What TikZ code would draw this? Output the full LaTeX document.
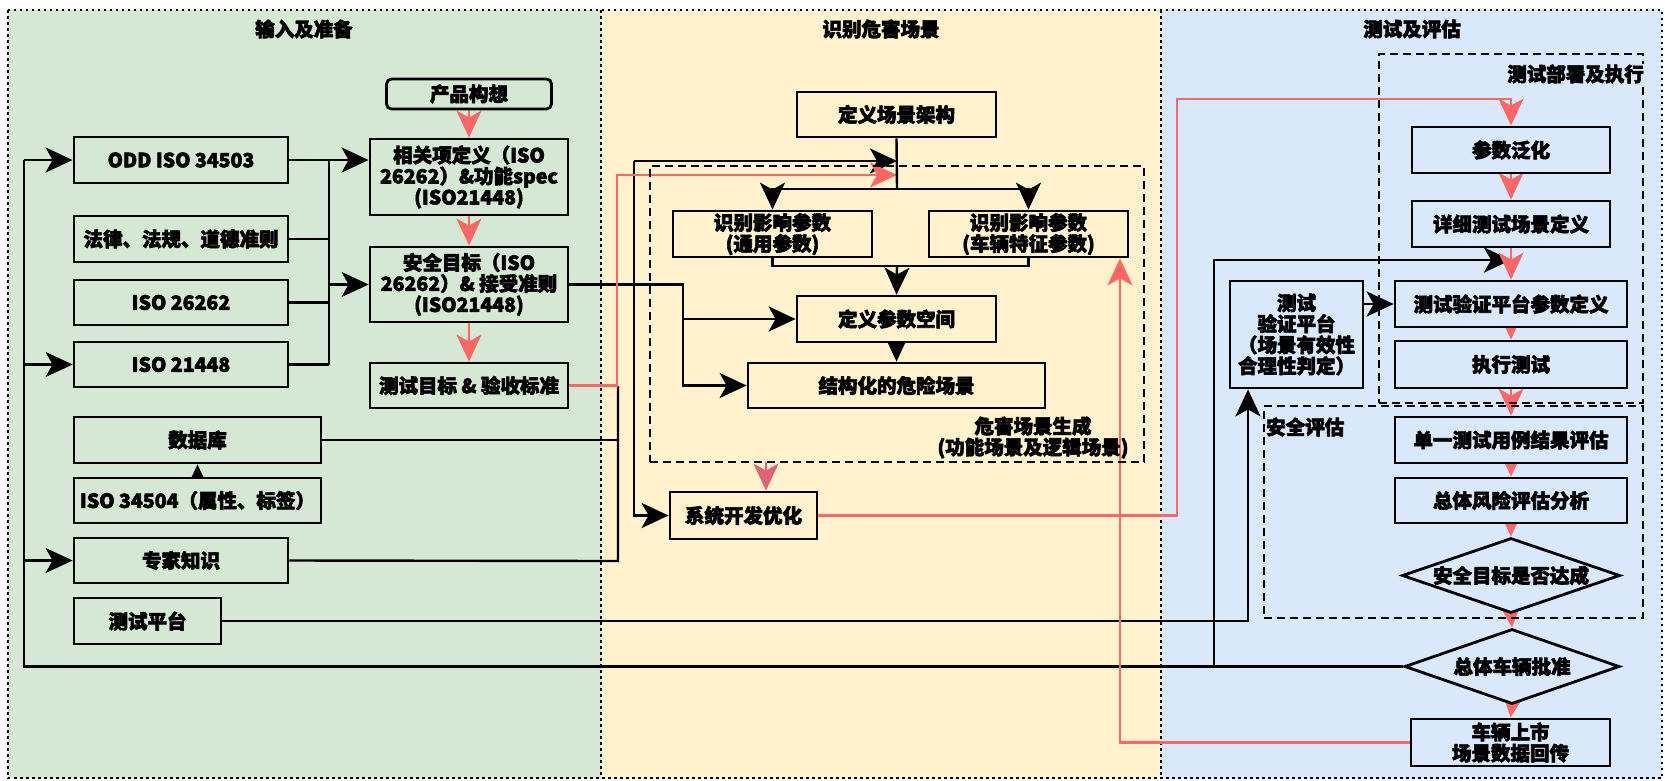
\documentclass[tikz,border=0pt]{standalone}
\usepackage{fontspec}
\setmainfont{Noto Sans CJK SC}
\usetikzlibrary{arrows.meta,shapes.geometric}
\definecolor{gbg}{HTML}{D5E8D4}
\definecolor{ybg}{HTML}{FFF2CC}
\definecolor{bbg}{HTML}{DAE8FC}
\definecolor{redc}{HTML}{FF6666}
\definecolor{redd}{HTML}{E06377}
\pgfdeclarelayer{bg}
\pgfdeclarelayer{edges}
\pgfsetlayers{bg,edges,main}
\begin{document}
\begin{tikzpicture}[x=1pt,y=-1pt,
  txt/.style={font=\bfseries\fontsize{19.5}{21}\selectfont\addfontfeatures{FakeBold=3}, align=center, inner sep=0pt},
  box/.style={txt, draw, line width=2.8pt},
  gbox/.style={box, fill=gbg},
  ybox/.style={box, fill=ybg},
  bbox/.style={box, fill=bbg},
  wh/.style 2 args={minimum width=#1pt, minimum height=#2pt},
  colborder/.style={draw, line width=2.5pt, dash pattern=on 2.5pt off 3.5pt},
  dbox/.style={draw, line width=2.5pt, dash pattern=on 8pt off 5pt},
  ln/.style={line width=2.4pt},
  arr/.style={ln, -{Stealth[length=27pt,width=25pt,inset=7pt]}},
  rarr/.style={arr, draw=redc},
  dia/.style={txt, draw, line width=2.8pt, diamond, aspect=2.9, fill=bbg}
]
\useasboundingbox (0,0) rectangle (1665,780);
% columns
\begin{pgfonlayer}{bg}
\path[fill=gbg] (8,10) rectangle (601,778);
\path[fill=ybg] (601,10) rectangle (1161,778);
\path[fill=bbg] (1161,10) rectangle (1662,778);
\draw[colborder] (8,10) rectangle (1662,778);
\draw[colborder] (601,10) -- (601,778);
\draw[colborder] (1161,10) -- (1161,778);
\end{pgfonlayer}
\node[txt] (t1) at (304,29) {输入及准备};
\node[txt] (t2) at (881,29) {识别危害场景};
\node[txt] (t3) at (1412,29) {测试及评估};

% dashed groups
\node[dbox, wh={494}{296}] (hz) at (897,314) {};
\node[txt, align=center] (hzlbl) at (1033,437.5) {危害场景生成\\(功能场景及逻辑场景)};
\node[dbox, wh={264}{349}] (deploy) at (1511,228.5) {};
\node[dbox, wh={379}{212}] (safety) at (1453.5,512) {};
\node[txt, fill=bbg, anchor=east, inner sep=1pt] (deplbl) at (1645,74) {测试部署及执行};
\node[txt, anchor=west] (saflbl) at (1266,427) {安全评估};

% column 1 nodes
\node[gbox, wh={165}{30}, rounded corners=5pt] (prod) at (469,94) {产品构想};
\node[gbox, wh={214}{46}] (odd) at (181,160) {ODD ISO 34503};
\node[gbox, wh={198}{76}] (rel) at (469,177) {相关项定义（ISO\\26262）\&功能spec\\(ISO21448)};
\node[gbox, wh={214}{46}] (law) at (181,239) {法律、法规、道德准则};
\node[gbox, wh={198}{75}] (sg) at (469,284.5) {安全目标（ISO\\26262）\& 接受准则\\(ISO21448)};
\node[gbox, wh={214}{45}] (iso26) at (181,302.5) {ISO 26262};
\node[gbox, wh={214}{45}] (iso21) at (181,364.5) {ISO 21448};
\node[gbox, wh={198}{45}] (tgt) at (469,385.5) {测试目标 \& 验收标准};
\node[gbox, wh={247}{46}] (db) at (197.5,440) {数据库};
\node[gbox, wh={247}{45}] (iso34) at (197.5,500.5) {ISO 34504（属性、标签）};
\node[gbox, wh={214}{45}] (exp) at (181,560.5) {专家知识};
\node[gbox, wh={147}{46}] (tp) at (147.5,621) {测试平台};

% column 2 nodes
\node[ybox, wh={199}{45}] (arch) at (896.5,114.5) {定义场景架构};
\node[ybox, wh={199}{46}] (gp) at (772.5,234) {识别影响参数\\(通用参数)};
\node[ybox, wh={199}{46}] (vp) at (1028.5,234) {识别影响参数\\(车辆特征参数)};
\node[ybox, wh={199}{46}] (pspace) at (896.5,319) {定义参数空间};
\node[ybox, wh={297}{45}] (struct) at (896.5,385.5) {结构化的危险场景};
\node[ybox, wh={147}{47}] (sysdev) at (743.5,515.5) {系统开发优化};

% column 3 nodes
\node[bbox, wh={198}{46}] (gen) at (1511,150) {参数泛化};
\node[bbox, wh={198}{46}] (det) at (1511,224) {详细测试场景定义};
\node[bbox, wh={232}{46}] (tpd) at (1511,304) {测试验证平台参数定义};
\node[bbox, wh={232}{47}] (exe) at (1511,364.5) {执行测试};
\node[bbox, wh={133}{107}] (tvp) at (1296.5,334.5) {测试\\验证平台\\（场景有效性\\合理性判定）};
\node[bbox, wh={232}{46}] (single) at (1511,440) {单一测试用例结果评估};
\node[bbox, wh={232}{45}] (risk) at (1511,500.5) {总体风险评估分析};
\node[dia, wh={218}{75}] (goal) at (1511,575.5) {安全目标是否达成};
\node[dia, wh={215}{75}] (approve) at (1512,666.5) {总体车辆批准};
\node[bbox, wh={199}{47}] (car) at (1510.5,742.5) {车辆上市\\场景数据回传};

\begin{pgfonlayer}{edges}
% ---- connectors column 1
\coordinate (busT) at (329,160);
\coordinate (busB) at (329,364.5);
\draw[ln] (busT) -- (busB);
\draw[arr] (odd.east) -- (odd.east -| rel.west);
\draw[ln] (law.east) -- (law.east -| busT);
\draw[ln] (iso26.east) -- (iso26.east -| busT);
\draw[ln] (iso21.east) -- (busB);
\draw[arr] (sg.west -| busT) -- (sg.west);
\draw[rarr] (prod.south) -- (rel.north);
\draw[rarr] (rel.south) -- (sg.north);
\draw[rarr] (sg.south) -- (tgt.north);
\draw[arr] (iso34.north) -- (db.south);

% trunk
\coordinate (trB) at (24,666.5);
\coordinate (trT) at (24,160);
\draw[ln] (approve.west) -- (trB) -- (trT);
\draw[arr] (trT) -- (odd.west);
\draw[arr] (iso21.west -| trT) -- (iso21.west);
\draw[arr] (exp.west -| trT) -- (exp.west);
\coordinate (tvB) at (1214,666.5);
\coordinate (tvT) at (1214,260);
\coordinate (detIn) at (1511,260);
\draw[arr] (tvB) -- (tvT) -- (detIn);

% test platform
\coordinate (tpC) at (1248,621);
\draw[arr] (tp.east) -- (tpC) -- (tpC |- tvp.south);

% database / expert
\coordinate (dbx) at (618,440);
\coordinate (expx) at (618,561);
\coordinate (dbTop) at (618,386);
\draw[ln] (db.east) -- (dbx);
\draw[ln] (exp.east) -- (expx) -- (dbTop);

% safety goal -> parameter space / structured scenario
\coordinate (sgx) at (683,284.5);
\draw[arr] (sg.east) -- (sgx) |- (struct.west);
\draw[arr] (sgx |- pspace.west) -- (pspace.west);

% black 634 line
\coordinate (b1) at (634,161);
\coordinate (b2) at (897,161);
\draw[arr] (b1) -- (b2);
\draw[arr] (b1) |- (sysdev.west);

% red from test target
\coordinate (rt1) at (617,385.5);
\coordinate (rt2) at (617,175);
\coordinate (rt3) at (897,175);
\draw[rarr] (tgt.east) -- (rt1) -- (rt2) -- (rt3);

% column 2 internal
\coordinate (split) at (897,189);
\coordinate (join) at (897,266);
\draw[ln] (arch.south) -- (split);
\draw[arr] (split) -| (gp.north);
\draw[arr] (split) -| (vp.north);
\draw[ln] (gp.south) |- (join);
\draw[ln] (vp.south) |- (join);
\draw[arr] (join) -- (pspace.north);
\draw[arr] (pspace.south) -- (struct.north);
\coordinate (hzOut) at (766,462);
\draw[arr, draw=redd] (hzOut) -- (hzOut |- sysdev.north);

% red from sysdev to parameter generalisation
\coordinate (r1) at (1177,515.5);
\coordinate (r2) at (1177,99);
\coordinate (r3) at (1511,99);
\draw[rarr] (sysdev.east) -- (r1) -- (r2) -- (r3) -- (gen.north);

% red from market back to vehicle params
\coordinate (c1) at (1120,742.5);
\draw[rarr] (car.west) -- (c1) -- (c1 |- vp.south);

% column 3 chain
\draw[rarr] (gen.south) -- (det.north);
\draw[rarr] (det.south) -- (tpd.north);
\draw[rarr] (tpd.south) -- (exe.north);
\draw[rarr] (exe.south) -- (single.north);
\draw[rarr] (single.south) -- (risk.north);
\draw[rarr] (risk.south) -- (goal.north);
\draw[rarr] (goal.south) -- (approve.north);
\draw[rarr] (approve.south) -- (car.north);
\draw[arr] (tvp.east |- tpd.west) -- (tpd.west);
\end{pgfonlayer}
\end{tikzpicture}
\end{document}
